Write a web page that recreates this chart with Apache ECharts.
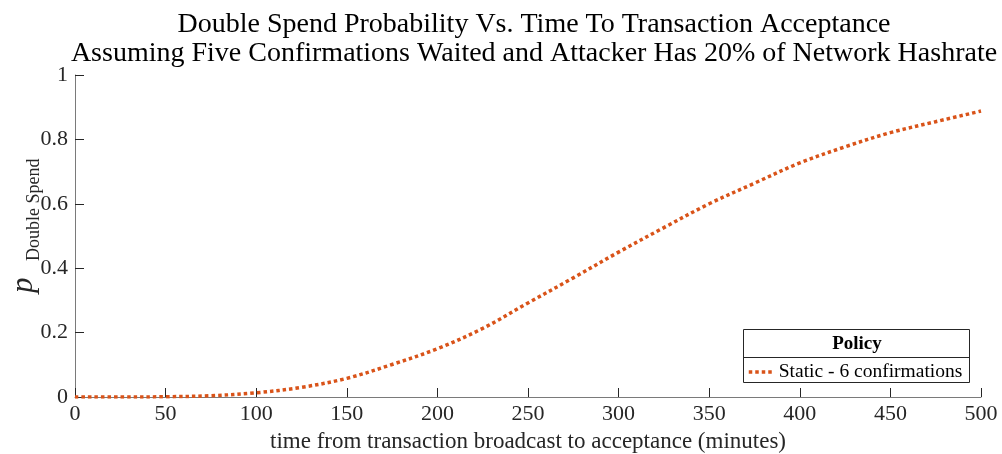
<!DOCTYPE html>
<html>
<head>
<meta charset="utf-8">
<title>Double Spend Probability</title>
<script src="https://cdn.jsdelivr.net/npm/echarts@6/dist/echarts.min.js"></script>
<style>
  html, body { margin: 0; padding: 0; background: #fff; }
  #chart { width: 1002px; height: 454px; }
</style>
</head>
<body>
<div id="chart"></div>
<script>
// Time (minutes) from transaction broadcast to acceptance
const minutes = [0, 25, 50, 75, 100, 125, 150, 175, 200, 225, 250, 275, 300, 325, 350, 375, 400, 425, 450, 475, 500];
// Double spend probability, static policy waiting for 6 confirmations
const pStatic6 = [0, 0.0001, 0.0008, 0.004, 0.013, 0.030, 0.058, 0.101, 0.150, 0.213, 0.292, 0.370, 0.450, 0.526, 0.600, 0.664, 0.727, 0.777, 0.821, 0.855, 0.888];
const xTicks = { min: 0, max: 500, step: 50 };
const yTicks = { min: 0, max: 1, step: 0.2 };
const seriesName = 'Static - 6 confirmations';
const legendTitle = 'Policy';
const titleLines = [
  'Double Spend Probability Vs. Time To Transaction Acceptance',
  'Assuming Five Confirmations Waited and Attacker Has 20% of Network Hashrate'
];
const xLabel = 'time from transaction broadcast to acceptance (minutes)';

const FONT = "'Liberation Serif', 'Times New Roman', serif";
const INK = '#262626';
const ORANGE = '#D95319';
const DOTS = [3.5, 3];

const chart = echarts.init(document.getElementById('chart'), null, { renderer: 'canvas' });

const axisCommon = {
  axisLine: { show: true, lineStyle: { color: '#7a7a7a', width: 1 } },
  axisTick: { show: true, inside: true, length: 9, lineStyle: { color: INK, width: 1 } },
  splitLine: { show: false },
  axisLabel: { color: INK, fontFamily: FONT, fontSize: 22 }
};

chart.setOption({
  animation: false,
  backgroundColor: '#fff',
  title: {
    text: titleLines.join('\n'),
    left: 529,
    top: 5,
    textAlign: 'center',
    textStyle: { fontFamily: FONT, fontSize: 28, fontWeight: 'normal', color: '#000', lineHeight: 29 }
  },
  grid: { left: 75, right: 21, top: 75, bottom: 57, containLabel: false, outerBoundsMode: 'none' },
  xAxis: Object.assign({}, axisCommon, {
    type: 'value',
    min: xTicks.min, max: xTicks.max, interval: xTicks.step,
    name: xLabel,
    nameLocation: 'middle',
    nameGap: 33,
    nameTextStyle: { fontFamily: FONT, fontSize: 23, color: INK },
    axisLabel: Object.assign({}, axisCommon.axisLabel, { margin: 6 })
  }),
  yAxis: Object.assign({}, axisCommon, {
    type: 'value',
    min: yTicks.min, max: yTicks.max, interval: yTicks.step,
    axisLabel: Object.assign({}, axisCommon.axisLabel, {
      margin: 7,
      formatter: v => (Math.round(v * 10) / 10).toString()
    })
  }),
  legend: {
    show: true,
    z: 20,
    data: [seriesName],
    left: 747,
    top: 362,
    itemWidth: 25,
    itemHeight: 12,
    itemGap: 0,
    padding: 0,
    itemStyle: { opacity: 0 },
    lineStyle: { color: ORANGE, width: 3.5, type: DOTS, cap: 'butt' },
    textStyle: { fontFamily: FONT, fontSize: 19.5, color: '#000', padding: [0, 0, 0, 0] }
  },
  graphic: [
    // legend frame with its heading row
    {
      type: 'rect', z: 1, silent: true,
      shape: { x: 743.5, y: 329.5, width: 226, height: 53 },
      style: { fill: '#fff', stroke: INK, lineWidth: 1 }
    },
    {
      type: 'line', z: 2, silent: true,
      shape: { x1: 743.5, y1: 357.5, x2: 969.5, y2: 357.5 },
      style: { stroke: INK, lineWidth: 1 }
    },
    {
      type: 'text', z: 2, silent: true,
      x: 857, y: 344,
      style: { text: legendTitle, fontFamily: FONT, fontSize: 19, fontWeight: 'bold', fill: '#000', align: 'center', verticalAlign: 'middle' }
    },
    // y axis label: italic p with "Double Spend" subscript
    {
      type: 'text', silent: true,
      x: 24, y: 293, rotation: Math.PI / 2,
      style: { text: 'p', fontFamily: FONT, fontSize: 31, fontStyle: 'italic', fill: INK, align: 'left', verticalAlign: 'middle' }
    },
    {
      type: 'text', silent: true,
      x: 34, y: 261, rotation: Math.PI / 2,
      style: { text: 'Double Spend', fontFamily: FONT, fontSize: 18, fill: INK, align: 'left', verticalAlign: 'middle' }
    }
  ],
  series: [{
    name: seriesName,
    type: 'line',
    data: minutes.map((t, i) => [t, pStatic6[i]]),
    smooth: 0.35,
    showSymbol: false,
    symbol: 'none',
    color: ORANGE,
    lineStyle: { color: ORANGE, width: 3.5, type: DOTS, cap: 'butt' },
    z: 5
  }]
});
</script>
</body>
</html>
